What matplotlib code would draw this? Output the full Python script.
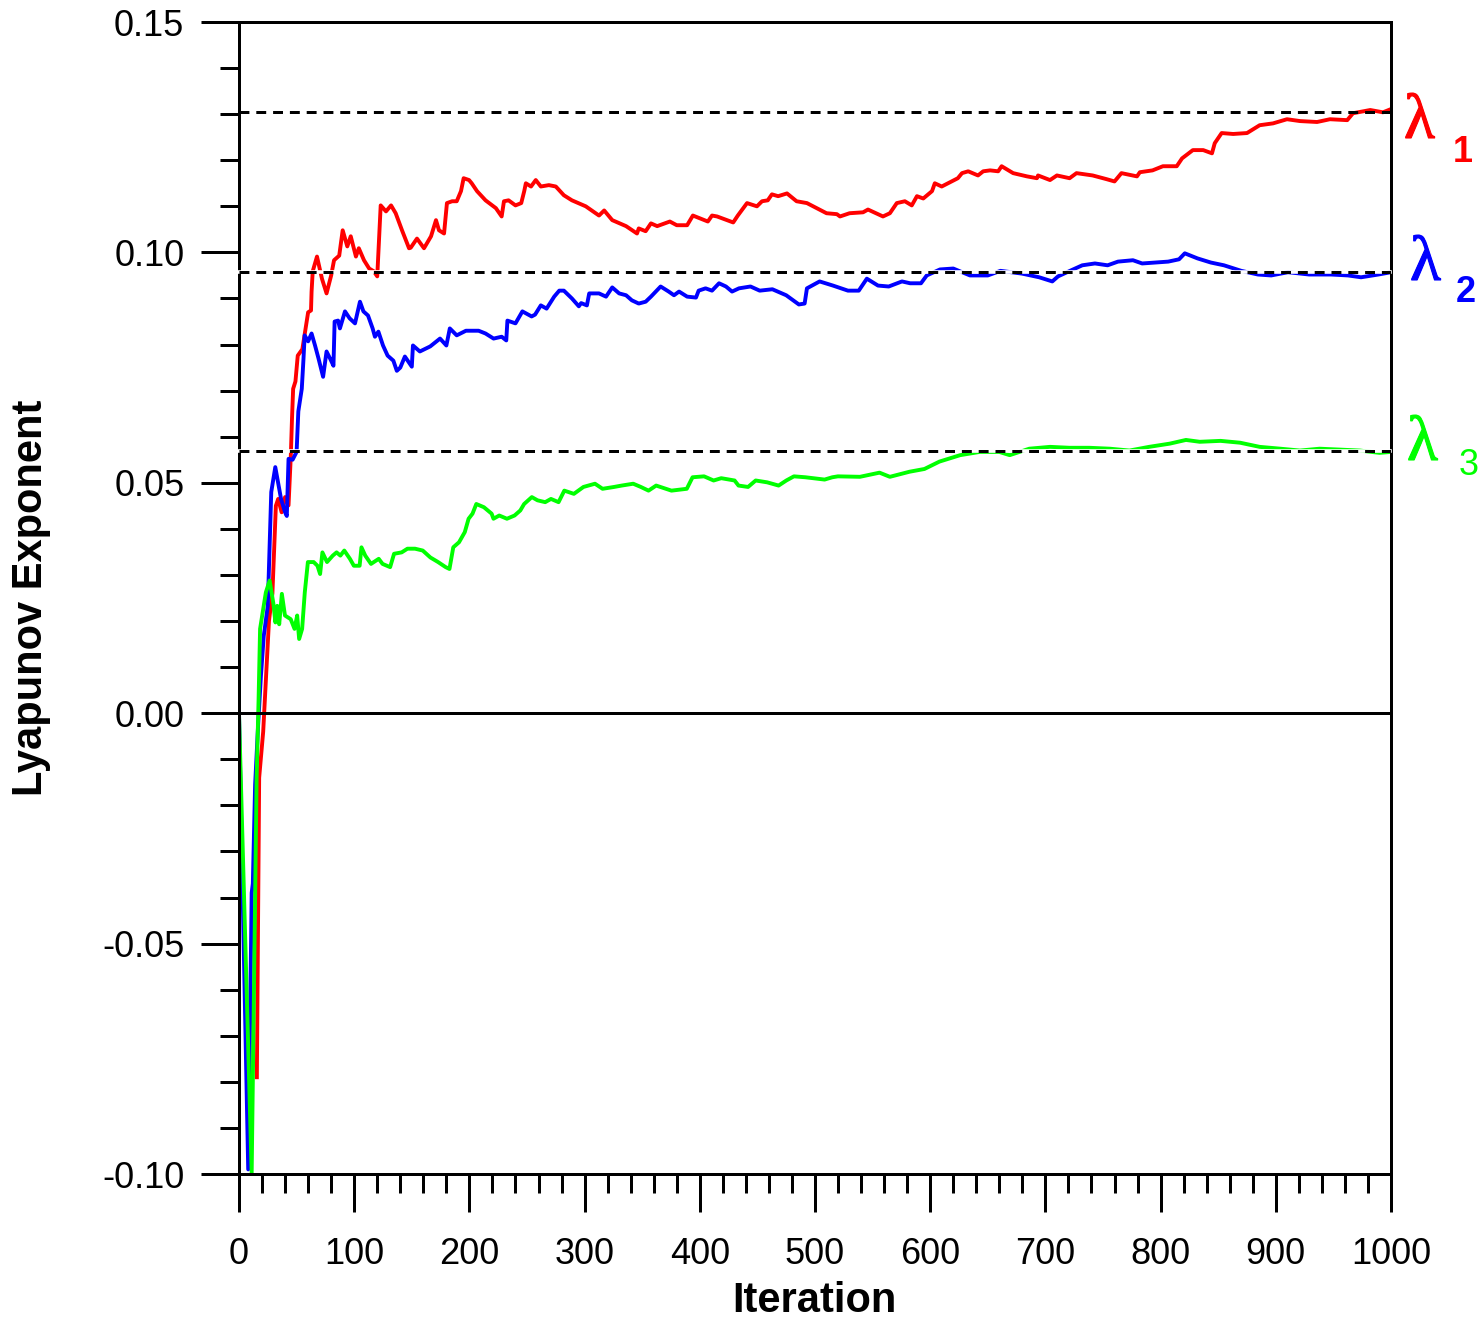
import numpy as np
import matplotlib
matplotlib.use("Agg")
import matplotlib.pyplot as plt
import matplotlib.patheffects as pe
from matplotlib.ticker import MultipleLocator, FuncFormatter

plt.rcParams['font.family'] = ['Liberation Sans', 'DejaVu Sans']

# lambda_1 (red)
it_r = [15.5, 17.5, 21, 23.5, 26, 29, 32, 34, 37, 40, 43, 45, 46, 47, 49, 51, 55, 60, 62.5, 63, 64, 67.7,
        72, 76, 80, 82.5, 87, 90, 94, 97, 101.5, 104, 108.5, 113, 117, 120, 123, 127.6, 132, 136, 141.5,
        147.6, 149, 154.5, 160.6, 166.7, 171, 173.6, 178, 180.5, 185, 189, 192.7, 195, 199.7, 202, 206.6,
        214, 223, 228, 230, 234, 240, 245, 247.6, 249, 253.5, 257.6, 262, 269, 275, 282, 289, 301, 312.5,
        317, 324, 336, 345.5, 347, 353, 357.6, 363, 374, 380, 389, 394, 407, 410.6, 415, 429, 433, 441,
        449.6, 454, 459, 462.6, 468, 475.7, 484, 493, 510, 519, 521.7, 530, 541.7, 546, 559, 565, 571, 578,
        584, 588.5, 594, 601.6, 604, 610, 617, 624, 627.6, 633, 641.5, 646, 652, 659, 662, 672, 684, 692.7,
        693.6, 704, 710, 721, 727, 741, 753, 760, 766, 779.5, 782, 793, 802, 814, 818.6, 828, 837, 844.6,
        847, 853, 863, 875, 886, 897.6, 909.7, 921, 935.8, 947, 962, 967, 982, 993, 1000]
lam1 = [-0.079, -0.014, -0.004, 0.008, 0.020, 0.026, 0.045, 0.0465, 0.0436, 0.0469, 0.0451, 0.056, 0.0639,
        0.0704, 0.072, 0.0776, 0.079, 0.087, 0.0874, 0.0915, 0.0959, 0.0991, 0.0943, 0.0911, 0.095, 0.0983,
        0.0993, 0.1048, 0.1013, 0.1035, 0.0991, 0.1009, 0.0983, 0.0965, 0.0959, 0.0948, 0.1102, 0.1089,
        0.1102, 0.1085, 0.1048, 0.1009, 0.101, 0.103, 0.1009, 0.1035, 0.107, 0.1048, 0.1041, 0.1107, 0.1111,
        0.1111, 0.1133, 0.1161, 0.1157, 0.115, 0.1133, 0.1113, 0.1096, 0.1078, 0.1111, 0.1113, 0.1102,
        0.1107, 0.1133, 0.115, 0.1143, 0.1157, 0.1143, 0.1146, 0.1143, 0.1124, 0.1113, 0.110, 0.108, 0.1091,
        0.107, 0.1057, 0.1041, 0.1052, 0.1046, 0.1063, 0.1057, 0.1067, 0.1059, 0.1059, 0.108, 0.1067, 0.108,
        0.1078, 0.1065, 0.108, 0.1107, 0.110, 0.1111, 0.1113, 0.1126, 0.1122, 0.1128, 0.1111, 0.1107,
        0.1085, 0.1083, 0.1078, 0.1085, 0.1087, 0.1093, 0.1078, 0.1085, 0.1107, 0.1111, 0.1102, 0.1122,
        0.1117, 0.1133, 0.115, 0.1143, 0.1152, 0.1161, 0.1172, 0.1176, 0.1167, 0.1176, 0.1178, 0.1176,
        0.1187, 0.1172, 0.1165, 0.1161, 0.1167, 0.1157, 0.1167, 0.1161, 0.1172, 0.1167, 0.1159, 0.1154,
        0.1172, 0.1165, 0.1174, 0.1178, 0.1187, 0.1187, 0.1204, 0.1222, 0.1222, 0.1215, 0.1237, 0.1259,
        0.1257, 0.1259, 0.1276, 0.128, 0.1289, 0.1285, 0.1283, 0.1289, 0.1287, 0.1302, 0.1309, 0.1304,
        0.1311]

# lambda_2 (blue)
it_b = [0, 8, 11, 12, 14, 16.5, 19, 21.5, 25, 28, 31.5, 36.5, 40, 41.5, 43, 46.5, 50, 51.5, 54.5, 56, 57,
        60, 63, 66, 69, 73, 76, 79, 82, 83, 86, 87.6, 92, 96, 100.7, 105, 108, 112, 116, 118, 121, 125,
        129, 134, 137, 140, 144, 150, 151, 157, 166, 174.5, 180, 183, 189, 197, 208, 214, 221, 228, 232,
        233, 240, 246, 254, 257, 262, 267, 273.6, 278, 282, 289, 295, 297, 302, 304, 312.5, 318.6, 324,
        330, 336, 341, 347, 353, 357.6, 366, 373, 377.6, 382, 389, 396.7, 399, 405, 410.6, 416.7, 422.7,
        428, 434, 444, 452, 463, 475, 486, 491, 493, 504, 515.6, 528.6, 538, 545, 554.7, 564, 575.5,
        582.6, 592, 597, 608.5, 620, 634.5, 650, 661, 679.7, 694.6, 706, 711, 720.5, 732, 743, 754, 763,
        776, 784, 795, 806.6, 816, 821, 832, 843.6, 855, 870, 884.5, 896, 910.6, 929, 948, 962.7, 974,
        989, 1000]
lam2 = [0.0, -0.099, -0.039, -0.037, -0.0155, -0.003, 0.008, 0.0168, 0.0233, 0.048, 0.0534, 0.0465,
        0.0436, 0.0428, 0.0552, 0.055, 0.0567, 0.0655, 0.0704, 0.077, 0.082, 0.0807, 0.0824, 0.0798,
        0.077, 0.073, 0.0785, 0.077, 0.0754, 0.085, 0.0852, 0.0835, 0.0872, 0.0857, 0.0846, 0.0893,
        0.0872, 0.0863, 0.0835, 0.0817, 0.0828, 0.0798, 0.0776, 0.0765, 0.0743, 0.075, 0.0774, 0.0752,
        0.0798, 0.0785, 0.0796, 0.0813, 0.0798, 0.0835, 0.082, 0.083, 0.083, 0.0824, 0.0813, 0.0817,
        0.0809, 0.0852, 0.0846, 0.0872, 0.0861, 0.0865, 0.0885, 0.0878, 0.0904, 0.0917, 0.0917, 0.090,
        0.0883, 0.089, 0.0885, 0.0911, 0.0911, 0.0904, 0.0924, 0.0911, 0.0907, 0.0896, 0.0889, 0.0893,
        0.0904, 0.0926, 0.0915, 0.0907, 0.0915, 0.0904, 0.0902, 0.0917, 0.0922, 0.0917, 0.0933, 0.0926,
        0.0915, 0.0922, 0.0926, 0.0917, 0.092, 0.0907, 0.0887, 0.0889, 0.0922, 0.0937, 0.0928, 0.0917,
        0.0917, 0.0943, 0.0928, 0.0926, 0.0937, 0.0933, 0.0933, 0.095, 0.0963, 0.0965, 0.095, 0.095,
        0.096, 0.0954, 0.0946, 0.0937, 0.0948, 0.0959, 0.0972, 0.0976, 0.0972, 0.098, 0.0983, 0.0976,
        0.0978, 0.098, 0.0985, 0.0998, 0.0987, 0.0978, 0.0972, 0.096, 0.0952, 0.095, 0.0957, 0.0952,
        0.0952, 0.095, 0.0946, 0.0952, 0.0957]

# lambda_3 (green)
it_g = [0, 11, 15.3, 17, 18.3, 23.3, 26.6, 29.9, 31.6, 33.2, 34.9, 37.2, 39.9, 44.9, 48.2, 50.5, 52.2, 54.8,
        57.1, 59.8, 64.8, 68.1, 70.4, 72.4, 76.4, 81.4, 84.7, 88, 91.4, 96.3, 99.7, 104.7, 106.3, 109.6,
        114.6, 121.3, 124.6, 131.2, 134.6, 141.2, 146.2, 152.8, 159.5, 166.1, 172.8, 179.4, 182.7, 186,
        191, 196, 199.3, 202.7, 206, 212.6, 219.3, 220.9, 225.9, 232.6, 239.2, 244.2, 247.5, 254.2, 259.1,
        265.8, 270.8, 277.4, 282.4, 290.7, 299, 309, 315.6, 325.6, 332.2, 342.2, 348.8, 355.5, 362.1,
        375.4, 388.7, 393.7, 403.7, 412, 418.6, 430.2, 433.6, 441.9, 448.5, 458.5, 468.4, 475.1, 481.7,
        491.7, 501.7, 508.3, 515, 519.9, 539, 556, 565, 582, 595, 608, 626, 643, 660, 669, 686, 704, 721,
        738, 756, 773, 790, 808, 822, 834, 852, 869, 886, 904, 921, 938, 956, 973, 990, 1000]
lam3 = [0.0, -0.0998, -0.014, 0.003, 0.0183, 0.0262, 0.0288, 0.0237, 0.0197, 0.0233, 0.0193, 0.0259,
        0.0212, 0.0204, 0.0183, 0.0212, 0.0161, 0.0183, 0.0262, 0.0328, 0.0328, 0.032, 0.0302, 0.0349,
        0.0328, 0.0342, 0.0349, 0.0342, 0.0353, 0.0335, 0.032, 0.032, 0.036, 0.0342, 0.0324, 0.0335,
        0.0324, 0.0317, 0.0346, 0.0349, 0.0357, 0.0357, 0.0353, 0.0338, 0.0328, 0.0317, 0.0313, 0.036,
        0.0371, 0.0393, 0.0422, 0.0433, 0.0454, 0.0447, 0.0433, 0.0422, 0.0429, 0.0422, 0.0429, 0.044,
        0.0454, 0.0469, 0.0462, 0.0458, 0.0465, 0.0458, 0.0483, 0.0476, 0.0491, 0.0498, 0.0487, 0.0491,
        0.0494, 0.0498, 0.0491, 0.0483, 0.0494, 0.0483, 0.0487, 0.0512, 0.0514, 0.0505, 0.051, 0.0505,
        0.0494, 0.0491, 0.0505, 0.0501, 0.0494, 0.0505, 0.0514, 0.0512, 0.0509, 0.0507, 0.0512, 0.0514,
        0.0513, 0.0522, 0.0513, 0.0524, 0.053, 0.0546, 0.056, 0.0567, 0.0567, 0.056, 0.0574, 0.0578,
        0.0576, 0.0576, 0.0574, 0.057, 0.0578, 0.0585, 0.0593, 0.0589, 0.0591, 0.0587, 0.0578, 0.0574,
        0.057, 0.0574, 0.0572, 0.057, 0.0565, 0.0567]

# converged values (dashed reference lines)
limits = [0.1305, 0.0957, 0.0568]
names = ['1', '2', '3']
colors = ['#ff0000', '#0000ff', '#00ff00']

W, H = 1483, 1319
fig = plt.figure(figsize=(W / 100, H / 100), dpi=100)
ax = fig.add_axes([239 / W, 1 - 1174 / H, (1391 - 239) / W, (1174 - 22) / H])

lw_ax = 2.16
ax.plot(it_r, lam1, color=colors[0], lw=2.8, zorder=2)
ax.plot(it_b, lam2, color=colors[1], lw=2.8, zorder=2.1)
ax.plot(it_g, lam3, color=colors[2], lw=2.8, zorder=2.2)

ax.axhline(0, color='black', lw=lw_ax, zorder=2.3)
for i, v in enumerate(limits):
    if i > 0:
        ax.plot([-3, 999], [v, v], color='white', lw=2.6, clip_on=False, zorder=2.6)
    ax.plot([0, 1000], [v, v], color='black', lw=lw_ax, ls=(0, (3.3, 2.3)), zorder=2.7)

ax.set_xlim(0, 1000)
ax.set_ylim(-0.10, 0.15)
ax.xaxis.set_major_locator(MultipleLocator(100))
ax.xaxis.set_minor_locator(MultipleLocator(20))
ax.yaxis.set_major_locator(MultipleLocator(0.05))
ax.yaxis.set_minor_locator(MultipleLocator(0.01))
ax.yaxis.set_major_formatter(FuncFormatter(lambda v, p: f"{0.0 if abs(v) < 1e-9 else v:.2f}"))
ax.xaxis.set_major_formatter(FuncFormatter(lambda v, p: f"{v:.0f}"))

ax.tick_params(which='major', direction='out', length=27.4, width=lw_ax, labelsize=26,
               top=False, right=False)
ax.tick_params(which='minor', direction='out', length=13.7, width=lw_ax, top=False, right=False)
ax.tick_params(axis='x', which='major', pad=18)
ax.tick_params(axis='y', which='major', pad=12)
for s in ax.spines.values():
    s.set_linewidth(lw_ax)

fig.text(31 / W, 1 - 598 / H, 'Lyapunov Exponent', rotation=90, ha='center', va='center',
         fontsize=30, fontweight='bold')
fig.text(814 / W, 1 - 1312 / H, 'Iteration', ha='center', va='baseline',
         fontsize=30, fontweight='bold')

# lambda labels at the right
lam_pos = [(1404, 138), (1410, 280), (1407, 460)]
sub_pos = [(1453, 162), (1456, 302), (1459, 475)]
for i in range(3):
    fig.text(lam_pos[i][0] / W, 1 - lam_pos[i][1] / H, '\u03bb', color=colors[i], fontsize=46,
             family=['Liberation Serif', 'DejaVu Serif'], ha='left', va='baseline',
             path_effects=[pe.withStroke(linewidth=0.8, foreground=colors[i])])
    fig.text(sub_pos[i][0] / W, 1 - sub_pos[i][1] / H, names[i], color=colors[i], fontsize=26,
             fontweight='bold' if i < 2 else 'normal', ha='left', va='baseline')

fig.savefig('out.png', dpi=100)
